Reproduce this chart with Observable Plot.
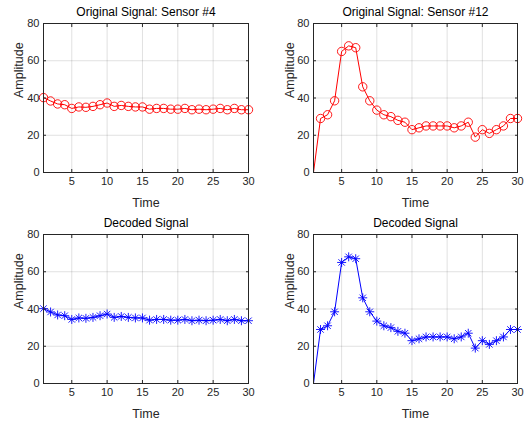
<!DOCTYPE html>
<html>
<head>
<meta charset="utf-8">
<script src="https://cdn.jsdelivr.net/npm/d3@7"></script>
<script src="https://cdn.jsdelivr.net/npm/@observablehq/plot@0.6"></script>
<style>
  html, body { margin: 0; padding: 0; background: #fff; }
  #wrap { position: relative; width: 528px; height: 423px; font-family: "Liberation Sans", Arial, sans-serif; }
  #wrap > div { position: absolute; }
  svg { overflow: visible; }
</style>
</head>
<body>
<div id="wrap">
  <div id="p1" style="left:0;top:0"></div>
  <div id="p2" style="left:264px;top:0"></div>
  <div id="p3" style="left:0;top:211px"></div>
  <div id="p4" style="left:264px;top:211px"></div>
</div>
<script>
const time = d3.range(1, 31);
const sensor4 = [40.2, 38.4, 36.8, 36.4, 34.4, 35.2, 35.0, 35.5, 36.4, 37.3,
                 35.5, 36.0, 35.5, 35.2, 35.2, 34.0, 34.4, 34.4, 34.0, 34.0,
                 34.4, 33.7, 34.0, 33.7, 34.0, 34.4, 33.7, 34.4, 33.7, 33.7];
const sensor12 = [0, 29, 31, 38.5, 65, 68, 67, 46, 38.5, 33.5,
                  31, 30, 28, 27, 23, 24, 25, 25, 25, 25,
                  24, 25, 27, 19, 23, 21, 23, 25, 29, 29];
const decoded4 = sensor4.slice();
const decoded12 = sensor12.slice();
const xTicks = [5, 10, 15, 20, 25, 30];
const yTicks = [0, 20, 40, 60, 80];
const titles = ["Original Signal: Sensor #4", "Original Signal: Sensor #12", "Decoded Signal", "Decoded Signal"];
const xLabel = "Time";
const yLabel = "Amplitude";

function panel(values, title, color, marker, ml, mr, h, ylabDx) {
  const data = time.map((t, i) => ({t, v: values[i]}));
  const shown = data.filter(d => d.v > 0);
  const marks = [
    Plot.gridX(xTicks, {stroke: "#000", strokeOpacity: 0.12}),
    Plot.gridY(yTicks, {stroke: "#000", strokeOpacity: 0.12}),
    Plot.line(data, {x: "t", y: "v", stroke: color, strokeWidth: 1}),
  ];
  if (marker === "circle") {
    marks.push(Plot.dot(shown, {x: "t", y: "v", r: 4.2, stroke: color, strokeWidth: 0.9, fill: "none"}));
  } else {
    marks.push(Plot.dot(shown, {x: "t", y: "v", symbol: "plus", r: 3.0, stroke: color, strokeWidth: 0.9}));
    marks.push(Plot.dot(shown, {x: "t", y: "v", symbol: "times", r: 3.0, stroke: color, strokeWidth: 0.9}));
  }
  marks.push(
    Plot.frame({stroke: "#262626", strokeWidth: 1}),
    Plot.axisX(xTicks, {anchor: "bottom", tickSize: -3, tickPadding: 8, fontSize: 11, color: "#262626", label: null}),
    Plot.axisX(xTicks, {anchor: "top", tickSize: -3, tickFormat: () => "", label: null, color: "#262626"}),
    Plot.axisY(yTicks, {anchor: "left", tickSize: -3, tickPadding: 7, fontSize: 11, color: "#262626", label: null}),
    Plot.axisY(yTicks, {anchor: "right", tickSize: -3, tickFormat: () => "", label: null, color: "#262626"}),
    Plot.text([xLabel], {frameAnchor: "bottom", dy: 30, lineAnchor: "middle", fontSize: 12.5, fill: "#262626"}),
    Plot.text([yLabel], {frameAnchor: "left", dx: -ylabDx, rotate: -90, lineAnchor: "middle", fontSize: 12.5, fill: "#262626"}),
    Plot.text([title], {frameAnchor: "top", dy: -11, lineAnchor: "middle", fontSize: 12, fill: "#000"})
  );
  return Plot.plot({
    width: 264, height: h,
    marginLeft: ml, marginRight: mr, marginTop: 23, marginBottom: h - 172,
    style: {fontFamily: "'Liberation Sans', Arial, sans-serif", fontSize: "12px", background: "transparent"},
    x: {domain: [1, 30]},
    y: {domain: [0, 80]},
    marks
  });
}

document.getElementById("p1").appendChild(panel(sensor4, titles[0], "#ff0000", "circle", 43, 16, 211, 25));
document.getElementById("p2").appendChild(panel(sensor12, titles[1], "#ff0000", "circle", 49, 11, 211, 24));
document.getElementById("p3").appendChild(panel(decoded4, titles[2], "#0000ff", "star", 43, 16, 212, 25));
document.getElementById("p4").appendChild(panel(decoded12, titles[3], "#0000ff", "star", 49, 11, 212, 24));
</script>
</body>
</html>
